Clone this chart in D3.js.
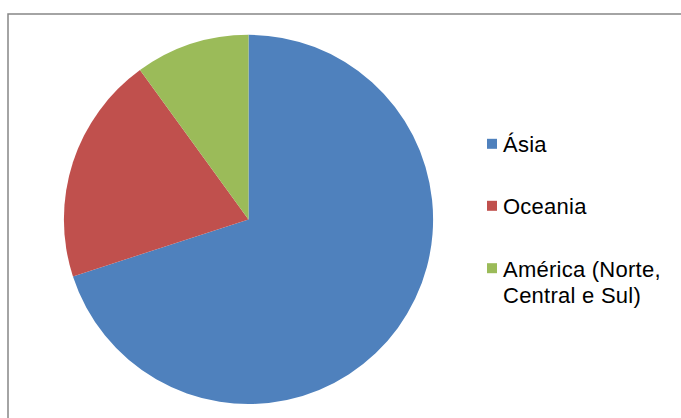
<!DOCTYPE html>
<html>
<head>
<meta charset="utf-8">
<script src="https://cdn.jsdelivr.net/npm/d3@7"></script>
<style>
  html, body { margin: 0; padding: 0; background: #fff; }
  svg { display: block; }
</style>
</head>
<body>
<svg id="chart" width="681" height="418"></svg>
<script>
// Region shares
const categories = ["Ásia", "Oceania", "América (Norte, Central e Sul)"];
const values = [70, 20, 10];
const legendLines = [["Ásia"], ["Oceania"], ["América (Norte,", "Central e Sul)"]];
const colors = ["#4F81BD", "#C0504D", "#9BBB59"];

const svg = d3.select("#chart");
const W = 681, H = 418;

// chart frame (extends past the right and bottom edges)
svg.append("rect")
  .attr("x", 8).attr("y", 14)
  .attr("width", W + 20).attr("height", H + 20)
  .attr("fill", "#fff")
  .attr("stroke", "#868686")
  .attr("stroke-width", 1.5);

const cx = 248.5, cy = 219.4, r = 184.6;

const pie = d3.pie().sort(null).value(d => d.value);
const arc = d3.arc().innerRadius(0).outerRadius(r);
const data = categories.map((c, i) => ({ name: c, value: values[i] }));

const color = d3.scaleOrdinal().domain(categories).range(colors);

svg.append("g")
  .attr("transform", `translate(${cx},${cy})`)
  .selectAll("path")
  .data(pie(data))
  .join("path")
  .attr("d", arc)
  .attr("fill", d => color(d.data.name));

// legend
const legend = svg.append("g").attr("font-family", "'Liberation Sans', Arial, sans-serif")
  .attr("font-size", 22).attr("letter-spacing", 0.25).attr("fill", "#000");
const baseY = [152.3, 214.3, 276.7];
categories.forEach((c, i) => {
  const g = legend.append("g");
  g.append("rect")
    .attr("x", 487).attr("y", baseY[i] - 13.5)
    .attr("width", 10).attr("height", 10)
    .attr("fill", color(c));
  const t = g.append("text").attr("x", 503).attr("y", baseY[i]);
  legendLines[i].forEach((line, j) => {
    t.append("tspan").attr("x", 503).attr("dy", j === 0 ? 0 : 26).text(line);
  });
});
</script>
</body>
</html>
